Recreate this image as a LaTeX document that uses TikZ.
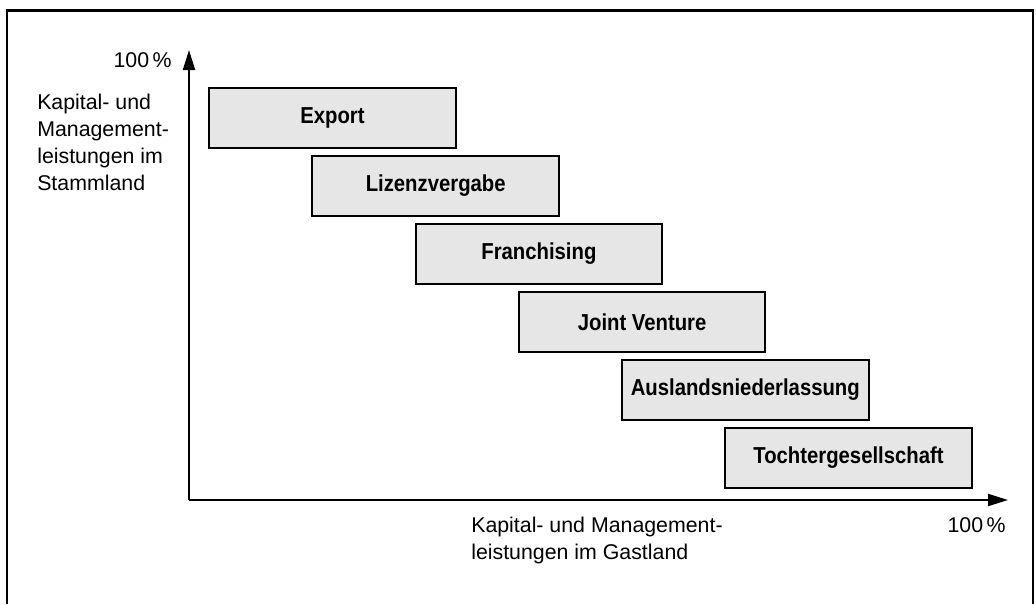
\documentclass[tikz,border=0pt]{standalone}
\usepackage{fontspec}
\setmainfont{Liberation Sans}
\newfontfamily\boxfont{Liberation Sans}[FakeStretch=0.88]
\usetikzlibrary{arrows.meta}
\definecolor{boxfill}{RGB}{230,230,230}
\tikzset{
  x=0.75pt, y=-0.75pt,
  frameline/.style={line width=2pt},
  axisline/.style={line width=1.5pt, -{Triangle[length=15pt,width=9pt]}},
  stage/.style={draw, line width=1.5pt, fill=boxfill, minimum width=185pt, minimum height=45pt,
    inner sep=0pt, font=\boxfont\bfseries\fontsize{17.3pt}{20pt}\selectfont},
  lab/.style={anchor=base west, inner sep=0pt, font=\fontsize{16pt}{19pt}\selectfont},
  labr/.style={anchor=base east, inner sep=0pt, font=\fontsize{16pt}{19pt}\selectfont},
}
\begin{document}
\begin{tikzpicture}
\useasboundingbox (0,0) rectangle (1036,604);
% frame (open at bottom)
\draw[frameline] (7,604) -- (7,10.5) -- (1033,10.5) -- (1033,604);
% axes
\coordinate (origin) at (189,500);
\coordinate (ytip) at (189,50);
\coordinate (xtip) at (1008,500);
\draw[axisline] (origin) -- (ytip);
\draw[axisline] (origin) -- (xtip);
% stages
\node[stage] (export) at (332.5,117.5) {Export};
\node[stage] (lizenz) at (435.7,185.6) {Lizenzvergabe};
\node[stage] (franch) at (538.9,253.7) {Franchising};
\node[stage] (joint) at (642.1,321.8) {Joint Venture};
\node[stage] (ausland) at (745.3,389.9) {Auslandsniederlassung};
\node[stage] (tochter) at (848.5,458) {Tochtergesellschaft};
% y-axis labels
\node[labr] (ymax) at (172,67) {100\,\%};
\node[lab] (ylab1) at (37,109) {Kapital- und};
\node[lab] (ylab2) at (37,136) {Management-};
\node[lab] (ylab3) at (37,163) {leistungen im};
\node[lab] (ylab4) at (37,190) {Stammland};
% x-axis labels
\node[lab] (xlab1) at (471,532) {Kapital- und Management-};
\node[lab] (xlab2) at (471,559) {leistungen im Gastland};
\node[labr] (xmax) at (1006,532) {100\,\%};
\end{tikzpicture}
\end{document}
